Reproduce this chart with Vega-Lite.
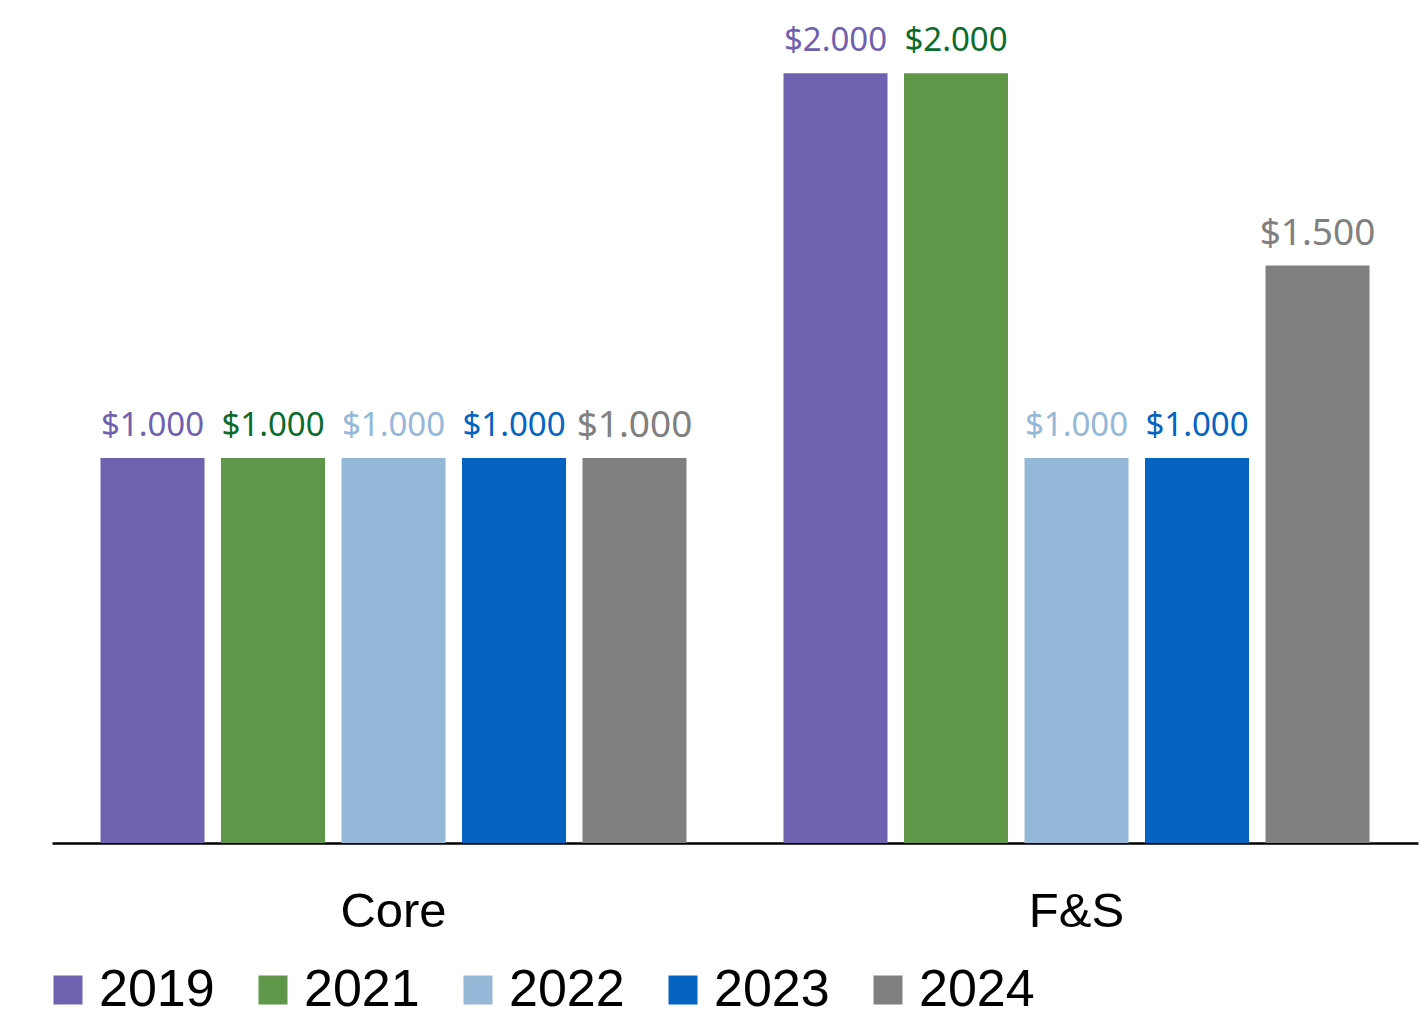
{
  "$schema": "https://vega.github.io/schema/vega-lite/v6.json",
  "width": 1366,
  "height": 843,
  "autosize": {"type": "none"},
  "padding": {"left": 52, "top": 0, "right": 2, "bottom": 174},
  "config": {
    "view": {"stroke": null},
    "locale": {"number": {"decimal": ",", "thousands": ".", "grouping": [3], "currency": ["$", ""]}}
  },
  "data": {
    "values": [
      {"category": "Core", "year": "2019", "value": 1000},
      {"category": "Core", "year": "2021", "value": 1000},
      {"category": "Core", "year": "2022", "value": 1000},
      {"category": "Core", "year": "2023", "value": 1000},
      {"category": "Core", "year": "2024", "value": 1000},
      {"category": "F&S", "year": "2019", "value": 2000},
      {"category": "F&S", "year": "2021", "value": 2000},
      {"category": "F&S", "year": "2022", "value": 1000},
      {"category": "F&S", "year": "2023", "value": 1000},
      {"category": "F&S", "year": "2024", "value": 1500}
    ]
  },
  "encoding": {
    "x": {
      "field": "category", "type": "nominal", "title": null,
      "scale": {"paddingInner": 0, "paddingOuter": 0},
      "axis": {
        "labelAngle": 0, "labelFont": "Liberation Sans", "labelFontSize": 49,
        "labelColor": "#000000", "labelPadding": 44, "ticks": false,
        "domainColor": "#000000", "domainWidth": 2.5, "grid": false
      }
    },
    "xOffset": {
      "field": "year", "type": "nominal",
      "scale": {"paddingInner": 0.137, "paddingOuter": 0.4025}
    },
    "y": {
      "field": "value", "type": "quantitative",
      "scale": {"domain": [0, 2190], "nice": false, "zero": true},
      "axis": null
    }
  },
  "layer": [
    {
      "mark": {"type": "bar"},
      "encoding": {
        "color": {
          "field": "year", "type": "nominal",
          "scale": {"domain": ["2019", "2021", "2022", "2023", "2024"],
                    "range": ["#7061AF", "#5E9749", "#95B8D9", "#0563C1", "#808080"]},
          "legend": {
            "title": null, "orient": "none", "direction": "horizontal",
            "legendX": -10, "legendY": 964,
            "symbolType": "square", "symbolSize": 841, "symbolStrokeWidth": 0,
            "labelFont": "Liberation Sans", "labelFontSize": 52, "labelColor": "#000000",
            "labelOffset": 5, "columnPadding": 32, "labelLimit": 300
          }
        }
      }
    },
    {
      "mark": {"type": "text", "baseline": "middle", "dy": -32, "font": "Noto Sans"},
      "encoding": {
        "text": {"field": "value", "type": "quantitative", "format": "$,.0f"},
        "size": {
          "field": "year", "type": "ordinal", "legend": null,
          "scale": {"type": "ordinal", "domain": ["2019", "2021", "2022", "2023", "2024"],
                    "range": [33, 33, 33, 33, 37]}
        },
        "color": {
          "field": "year", "type": "nominal", "legend": null,
          "scale": {"domain": ["2019", "2021", "2022", "2023", "2024"],
                    "range": ["#7061AF", "#0B6B2C", "#95B8D9", "#0563C1", "#808080"]}
        }
      }
    }
  ],
  "resolve": {"scale": {"color": "independent", "size": "independent"}}
}
